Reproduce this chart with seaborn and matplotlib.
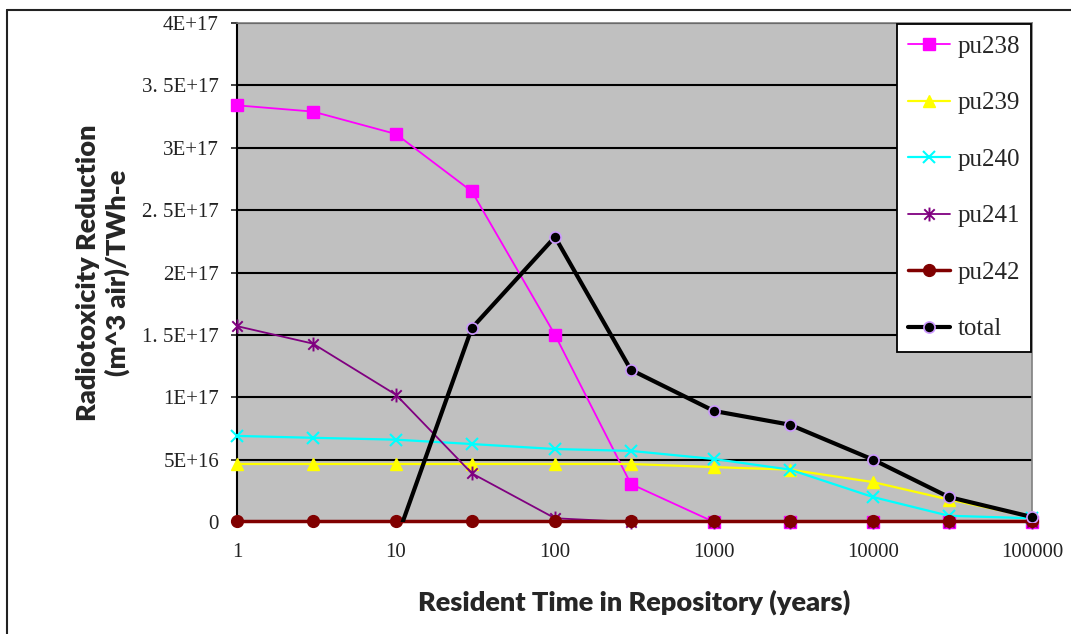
import numpy as np
import pandas as pd
import matplotlib
matplotlib.use("Agg")
import matplotlib.pyplot as plt
import seaborn as sns
from matplotlib.path import Path
from matplotlib.transforms import Bbox, TransformedBbox
from matplotlib.lines import Line2D

# ---- data ----
years = [1, 3, 10, 30, 100, 300, 1000, 3000, 10000, 30000, 100000]
pu238 = [3.34e17, 3.29e17, 3.11e17, 2.65e17, 1.50e17, 0.305e17, 0.0, 0.0, 0.0, 0.0, 0.0]
pu239 = [0.465e17, 0.465e17, 0.465e17, 0.465e17, 0.465e17, 0.465e17, 0.44e17, 0.42e17, 0.32e17, 0.18e17, 0.04e17]
pu240 = [0.69e17, 0.675e17, 0.66e17, 0.625e17, 0.585e17, 0.57e17, 0.505e17, 0.42e17, 0.20e17, 0.05e17, 0.03e17]
pu241 = [1.57e17, 1.43e17, 1.02e17, 0.39e17, 0.03e17, 0.0, 0.0, 0.0, 0.0, 0.0, 0.0]
pu242 = [0.01e17] * 11
total = [np.nan, np.nan, -0.15e17, 1.555e17, 2.285e17, 1.22e17, 0.89e17, 0.78e17, 0.50e17, 0.20e17, 0.04e17]

y_ticks = [0, 5e16, 1e17, 1.5e17, 2e17, 2.5e17, 3e17, 3.5e17, 4e17]
y_tick_labels = ["0", "5E+16", "1E+17", "1. 5E+17", "2E+17", "2. 5E+17", "3E+17", "3. 5E+17", "4E+17"]
x_ticks = [1, 10, 100, 1000, 10000, 100000]
x_tick_labels = ["1", "10", "100", "1000", "10000", "100000"]

series_names = ["pu238", "pu239", "pu240", "pu241", "pu242", "total"]
series_vals = [pu238, pu239, pu240, pu241, pu242, total]

df = pd.DataFrame({"years": years})
for n, v in zip(series_names, series_vals):
    df[n] = v

sns.set_theme(style="white")
plt.rcParams["font.family"] = ["Liberation Serif", "DejaVu Sans"]

fig = plt.figure(figsize=(10.71, 6.34), dpi=100)
W, H = 1071, 634
ax = fig.add_axes([237 / W, 1 - 522 / H, (1032 - 237) / W, (522 - 23) / H])
ax.set_facecolor("#C0C0C0")

# asterisk (x + vertical line) marker
star = Path([(0, -1), (0, 1), (-0.75, -0.75), (0.75, 0.75), (-0.75, 0.75), (0.75, -0.75)],
            [Path.MOVETO, Path.LINETO, Path.MOVETO, Path.LINETO, Path.MOVETO, Path.LINETO])

styles = {
    "pu238": dict(color="#FF00FF", lw=1.3, marker="s", ms=8, mfc="#FF00FF", mec="#FF00FF"),
    "pu239": dict(color="#FFFF00", lw=1.6, marker="^", ms=9, mfc="#FFFF00", mec="#FFFF00"),
    "pu240": dict(color="#00FFFF", lw=1.6, marker="x", ms=8, mfc="#00FFFF", mec="#00FFFF", mew=1.5),
    "pu241": dict(color="#800080", lw=1.3, marker=star, ms=10, mfc="none", mec="#800080", mew=1.4),
    "pu242": dict(color="#800000", lw=2.5, marker="o", ms=8.5, mfc="#800000", mec="#800000"),
    "total": dict(color="black", lw=3, marker="o", ms=8, mfc="black", mec="#CC99FF", mew=1.2),
}

for n in series_names:
    st = styles[n]
    sns.lineplot(data=df, x="years", y=n, ax=ax, label=n, color=st["color"], linewidth=st["lw"],
                 marker=st["marker"], markersize=st["ms"], markerfacecolor=st["mfc"],
                 markeredgecolor=st["mec"], markeredgewidth=st.get("mew", 1.0), zorder=3)
    line = ax.lines[-1]
    if n == "total":
        line.set_clip_path(None)
        line.set_clip_box(TransformedBbox(Bbox([[-0.02, 0.0], [1.03, 1.03]]), ax.transAxes))
    else:
        line.set_clip_on(False)

ax.set_xscale("log")
ax.set_xlim(1, 100000)
ax.set_ylim(0, 4e17)
ax.set_xticks(x_ticks)
ax.set_xticklabels(x_tick_labels)
ax.xaxis.set_minor_locator(matplotlib.ticker.NullLocator())
ax.set_yticks(y_ticks)
ax.set_yticklabels(y_tick_labels)
ax.tick_params(axis="x", length=0, pad=15, labelsize=15, colors="#222222")
ax.tick_params(axis="y", length=4, width=1.2, direction="out", pad=9, labelsize=15,
               colors="#222222", left=True)
ax.yaxis.grid(True, color="black", linewidth=1.5)
ax.xaxis.grid(False)
ax.set_axisbelow(True)
for s in ["top", "right", "bottom"]:
    ax.spines[s].set_color("#808080")
    ax.spines[s].set_linewidth(1.2)
ax.spines["left"].set_color("black")
ax.spines["left"].set_linewidth(1.5)

ax.set_xlabel("Resident Time in Repository (years)", family=["Lato", "DejaVu Sans"],
              fontweight="heavy", fontsize=19.5, labelpad=20)
ax.set_ylabel("Radiotoxicity Reduction\n(m^3 air)/TWh-e", family=["Lato", "DejaVu Sans"],
              fontweight="heavy", fontsize=19.5, labelpad=9, linespacing=1.2)

handles, labels = ax.get_legend_handles_labels()
leg = ax.legend(handles, labels, loc="upper right",
                bbox_to_anchor=(1031 / W, 1 - 24 / H), bbox_transform=fig.transFigure,
                frameon=True, fancybox=False, edgecolor="black", facecolor="white", framealpha=1,
                prop={"family": ["Liberation Serif"], "size": 18}, labelspacing=1.36,
                handlelength=1.7, handletextpad=0.28, borderpad=0.45, borderaxespad=0)
leg.get_frame().set_linewidth(1.3)

# figure border (left and top visible)
fig.add_artist(Line2D([7 / W, 7 / W], [0, 1 - 10 / H], transform=fig.transFigure, color="#222222", lw=1.5))
fig.add_artist(Line2D([7 / W, 1], [1 - 10 / H, 1 - 10 / H], transform=fig.transFigure, color="#222222", lw=1.5))

fig.savefig("out.png", dpi=100)
